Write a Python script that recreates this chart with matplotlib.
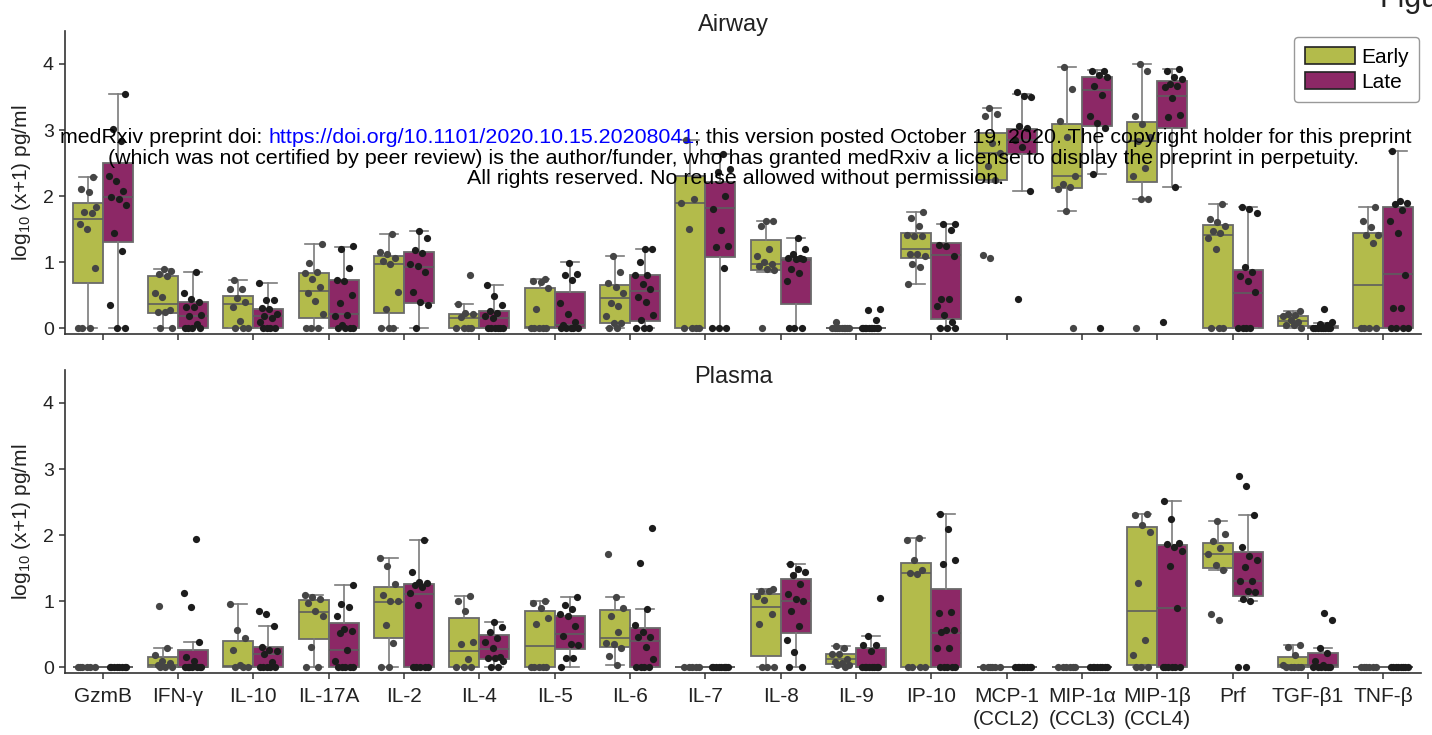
import matplotlib
matplotlib.use("Agg")
import matplotlib.pyplot as plt
from matplotlib.patches import Patch

plt.rcParams['font.family'] = ['Liberation Sans', 'DejaVu Sans']
plt.rcParams['mathtext.fontset'] = 'custom'
plt.rcParams['mathtext.rm'] = 'Liberation Sans'
plt.rcParams['mathtext.it'] = 'Liberation Sans:italic'

categories = ["GzmB", "IFN-γ", "IL-10", "IL-17A", "IL-2", "IL-4", "IL-5", "IL-6", "IL-7",
              "IL-8", "IL-9", "IP-10", "MCP-1\n(CCL2)", "MIP-1α\n(CCL3)", "MIP-1β\n(CCL4)",
              "Prf", "TGF-β1", "TNF-β"]
groups = ["Early", "Late"]
yticks = [0, 1, 2, 3, 4]

# box statistics per cytokine: (whisker low, Q1, median, Q3, whisker high)
air_early_box = [(0, 0.69, 1.66, 1.89, 2.29), (0, 0.23, 0.37, 0.79, 0.90), (0, 0, 0.37, 0.49, 0.73),
                 (0, 0.16, 0.57, 0.84, 1.28), (0, 0.23, 0.98, 1.09, 1.42), (0, 0, 0.15, 0.21, 0.37),
                 (0, 0, 0.02, 0.61, 0.74), (0, 0.08, 0.46, 0.65, 1.09), (0, 0, 1.89, 2.30, 2.85),
                 (0.86, 0.88, 0.98, 1.34, 1.63), (0, 0, 0, 0, 0), (0.67, 1.06, 1.20, 1.45, 1.76),
                 (2.22, 2.25, 2.65, 2.95, 3.34), (1.77, 2.12, 2.31, 3.09, 3.96), (1.95, 2.22, 2.83, 3.12, 4.00),
                 (0, 0, 1.41, 1.56, 1.88), (0, 0.03, 0.11, 0.18, 0.26), (0, 0, 0.65, 1.45, 1.83)]
air_late_box = [(0, 1.30, 1.98, 2.50, 3.55), (0, 0.01, 0.19, 0.40, 0.86), (0, 0.01, 0.18, 0.30, 0.68),
                (0, 0, 0.21, 0.73, 1.23), (0, 0.38, 0.93, 1.15, 1.48), (0, 0, 0.15, 0.27, 0.65),
                (0, 0, 0.05, 0.55, 1.00), (0, 0.11, 0.56, 0.80, 1.20), (0, 1.08, 1.82, 2.22, 2.64),
                (0, 0.37, 1.03, 1.06, 1.36), (0, 0, 0, 0, 0), (0, 0.14, 1.11, 1.29, 1.58),
                (2.08, 2.64, 2.85, 3.02, 3.55), (2.34, 3.06, 3.60, 3.81, 3.91), (2.14, 3.03, 3.51, 3.74, 3.93),
                (0, 0, 0.54, 0.89, 1.84), (0, 0, 0.015, 0.04, 0.08), (0, 0, 0.82, 1.83, 2.69)]
pla_early_box = [(0, 0, 0, 0, 0), (0, 0, 0.04, 0.16, 0.30), (0, 0.01, 0.025, 0.40, 0.96),
                 (0, 0.43, 0.84, 1.02, 1.10), (0, 0.44, 0.99, 1.21, 1.65), (0, 0, 0.24, 0.74, 1.08),
                 (0, 0, 0.33, 0.86, 1.00), (0.035, 0.31, 0.45, 0.87, 1.06), (0, 0, 0, 0, 0),
                 (0, 0.17, 0.91, 1.11, 1.18), (0, 0.05, 0.12, 0.20, 0.32), (0, 0, 1.43, 1.58, 1.95),
                 (0, 0, 0, 0, 0), (0, 0, 0, 0, 0), (0, 0.04, 0.86, 2.13, 2.32),
                 (1.48, 1.50, 1.72, 1.88, 2.22), (0, 0, 0.03, 0.16, 0.34), (0, 0, 0, 0, 0)]
pla_late_box = [(0, 0, 0, 0, 0), (0, 0, 0.01, 0.27, 0.39), (0, 0, 0.20, 0.31, 0.62),
                (0, 0, 0.26, 0.67, 1.25), (0, 0, 1.11, 1.26, 1.92), (0, 0.12, 0.28, 0.49, 0.69),
                (0, 0.28, 0.51, 0.78, 1.06), (0, 0.01, 0.40, 0.60, 0.89), (0, 0, 0, 0, 0),
                (0, 0.52, 1.01, 1.33, 1.56), (0, 0, 0, 0.29, 0.48), (0, 0, 0.52, 1.19, 2.32),
                (0, 0, 0, 0, 0), (0, 0, 0, 0, 0), (0, 0, 0.90, 1.85, 2.52),
                (1.00, 1.08, 1.31, 1.75, 2.31), (0, 0, 0.04, 0.22, 0.30), (0, 0, 0, 0, 0)]

# individual sample values
air_early_pts = [[0, 0, 0, 0.92, 1.51, 1.58, 1.75, 1.76, 1.84, 2.06, 2.11, 2.29],
                 [0, 0, 0.24, 0.24, 0.28, 0.47, 0.54, 0.79, 0.82, 0.87, 0.90],
                 [0, 0, 0, 0.11, 0.33, 0.40, 0.46, 0.59, 0.60, 0.73],
                 [0, 0, 0, 0.22, 0.42, 0.53, 0.63, 0.75, 0.83, 0.85, 0.99, 1.28],
                 [0, 0, 0, 0.30, 0.55, 0.98, 1.02, 1.07, 1.13, 1.16, 1.42],
                 [0, 0, 0, 0, 0.17, 0.21, 0.23, 0.37, 0.80],
                 [0, 0, 0, 0, 0, 0.30, 0.61, 0.70, 0.72, 0.74],
                 [0, 0, 0.08, 0.08, 0.19, 0.34, 0.39, 0.53, 0.62, 0.68, 0.85, 1.09],
                 [0, 0, 0, 0, 1.50, 1.90, 1.95, 2.85],
                 [0, 0.88, 0.90, 0.95, 0.98, 1.00, 1.10, 1.20, 1.55, 1.62, 1.63],
                 [0, 0, 0, 0, 0, 0, 0, 0, 0, 0.09],
                 [0.67, 0.93, 0.97, 1.09, 1.13, 1.13, 1.39, 1.40, 1.41, 1.55, 1.67, 1.76],
                 [1.06, 1.11, 2.25, 2.45, 2.66, 2.80, 3.22, 3.24, 3.34],
                 [0, 1.77, 2.11, 2.14, 2.19, 2.31, 2.90, 3.13, 3.62, 3.96],
                 [0, 1.95, 1.95, 2.31, 2.43, 2.83, 2.90, 3.09, 3.21, 3.90, 4.00],
                 [0, 0, 0, 1.20, 1.37, 1.45, 1.47, 1.55, 1.61, 1.66, 1.88],
                 [0, 0.05, 0.05, 0.10, 0.13, 0.18, 0.20, 0.21, 0.26],
                 [0, 0, 0, 0, 1.29, 1.41, 1.41, 1.53, 1.62, 1.83]]
air_late_pts = [[0, 0, 0.36, 1.17, 1.44, 1.86, 1.95, 1.98, 2.08, 2.23, 2.31, 2.83, 3.01, 3.55],
                [0, 0, 0, 0, 0.06, 0.18, 0.20, 0.32, 0.33, 0.40, 0.44, 0.53, 0.86],
                [0, 0, 0, 0, 0.10, 0.16, 0.19, 0.22, 0.30, 0.31, 0.43, 0.43, 0.68],
                [0, 0, 0, 0, 0.05, 0.19, 0.20, 0.38, 0.50, 0.72, 0.73, 0.91, 1.20, 1.24],
                [0, 0.35, 0.40, 0.55, 0.85, 0.95, 0.97, 1.14, 1.18, 1.36, 1.48],
                [0, 0, 0, 0, 0, 0, 0.15, 0.18, 0.23, 0.27, 0.35, 0.49, 0.65],
                [0, 0, 0, 0, 0, 0.05, 0.10, 0.22, 0.38, 0.73, 0.80, 0.82, 0.99],
                [0, 0, 0, 0.12, 0.20, 0.40, 0.48, 0.60, 0.67, 0.80, 0.80, 1.00, 1.20, 1.20],
                [0, 0, 0, 0.92, 1.23, 1.24, 1.49, 1.81, 2.00, 2.36, 2.41, 2.64],
                [0, 0, 0, 0.72, 0.83, 0.90, 1.05, 1.05, 1.07, 1.07, 1.12, 1.20, 1.36],
                [0, 0, 0, 0, 0, 0, 0, 0, 0, 0, 0.12, 0.28, 0.30],
                [0, 0, 0, 0.09, 0.20, 0.34, 0.44, 0.44, 1.10, 1.25, 1.26, 1.49, 1.58, 1.58],
                [0.44, 2.08, 2.75, 2.85, 3.03, 3.06, 3.50, 3.52, 3.57],
                [0, 2.34, 3.03, 3.10, 3.22, 3.53, 3.66, 3.80, 3.84, 3.90, 3.90],
                [0.09, 2.14, 3.20, 3.23, 3.49, 3.65, 3.67, 3.70, 3.77, 3.80, 3.90, 3.93],
                [0, 0, 0, 0, 0.55, 0.71, 0.79, 0.86, 0.93, 1.75, 1.80, 1.84],
                [0, 0, 0, 0, 0, 0, 0, 0, 0.05, 0.07, 0.09, 0.30],
                [0, 0, 0, 0, 0.31, 0.31, 0.81, 1.44, 1.63, 1.79, 1.88, 1.90, 1.93, 2.69]]
pla_early_pts = [[0, 0, 0, 0, 0, 0],
                 [0, 0, 0, 0.03, 0.06, 0.09, 0.18, 0.29, 0.93],
                 [0, 0, 0.01, 0.04, 0.26, 0.45, 0.57, 0.96],
                 [0, 0, 0.31, 0.78, 0.86, 0.98, 1.04, 1.06, 1.10],
                 [0, 0, 0.37, 0.64, 1.00, 1.00, 1.09, 1.26, 1.53, 1.65],
                 [0, 0, 0, 0.12, 0.36, 0.39, 0.86, 1.01, 1.08],
                 [0, 0, 0, 0, 0, 0.66, 0.74, 0.90, 0.97, 1.00],
                 [0.035, 0.17, 0.30, 0.35, 0.37, 0.54, 0.78, 0.90, 1.06, 1.71],
                 [0, 0, 0, 0, 0],
                 [0, 0, 0, 0.66, 0.80, 1.02, 1.08, 1.16, 1.16, 1.18],
                 [0, 0.03, 0.03, 0.06, 0.08, 0.12, 0.20, 0.20, 0.29, 0.33],
                 [0, 0, 0, 0, 1.41, 1.43, 1.47, 1.62, 1.93, 1.95],
                 [0, 0, 0, 0, 0, 0],
                 [0, 0, 0, 0, 0, 0],
                 [0, 0, 0, 0.18, 0.42, 1.28, 2.05, 2.16, 2.31, 2.32],
                 [0.71, 0.80, 1.48, 1.55, 1.72, 1.81, 1.91, 2.02, 2.22],
                 [0, 0, 0, 0, 0, 0.04, 0.19, 0.31, 0.34],
                 [0, 0, 0, 0, 0, 0]]
pla_late_pts = [[0, 0, 0, 0, 0, 0, 0, 0],
                [0, 0, 0, 0, 0, 0, 0, 0.09, 0.15, 0.39, 0.91, 1.12, 1.94],
                [0, 0, 0, 0, 0, 0.08, 0.20, 0.24, 0.27, 0.31, 0.62, 0.81, 0.85],
                [0, 0, 0, 0, 0, 0.10, 0.26, 0.52, 0.55, 0.58, 0.78, 0.92, 0.96, 1.25],
                [0, 0, 0, 0, 0, 0.94, 1.13, 1.21, 1.24, 1.27, 1.29, 1.45, 1.92],
                [0, 0, 0.10, 0.14, 0.14, 0.15, 0.29, 0.39, 0.44, 0.53, 0.61, 0.69],
                [0, 0.14, 0.14, 0.34, 0.36, 0.47, 0.62, 0.78, 0.80, 0.88, 0.94, 1.06],
                [0, 0, 0, 0, 0.13, 0.31, 0.46, 0.46, 0.53, 0.64, 0.89, 1.58, 2.11],
                [0, 0, 0, 0, 0, 0, 0, 0, 0],
                [0, 0, 0.23, 0.41, 0.62, 0.85, 1.01, 1.03, 1.11, 1.26, 1.39, 1.45, 1.49, 1.56],
                [0, 0, 0, 0, 0, 0, 0, 0, 0.24, 0.34, 0.34, 0.48, 1.05],
                [0, 0, 0, 0, 0, 0.29, 0.29, 0.53, 0.57, 0.57, 0.82, 0.83, 1.56, 1.62, 2.10, 2.32],
                [0, 0, 0, 0, 0, 0, 0, 0],
                [0, 0, 0, 0, 0, 0, 0, 0],
                [0, 0, 0, 0, 0, 0, 0.90, 1.53, 1.76, 1.82, 1.86, 1.88, 2.25, 2.52],
                [0, 0, 1.00, 1.04, 1.14, 1.15, 1.31, 1.31, 1.52, 1.63, 1.68, 1.82, 2.31, 2.75, 2.90],
                [0, 0, 0, 0, 0, 0, 0.03, 0.10, 0.22, 0.30, 0.71, 0.82],
                [0, 0, 0, 0, 0, 0, 0, 0]]

EARLY_C = '#b3bb4b'
LATE_C = '#8c2866'
PT_C = ['#454545', '#1c1c1c']
EDGE_C = '#6a6a6a'
WHISK_C = '#7c7c7c'
SPINE_C = '#333333'

W, H = 1432, 735
fig = plt.figure(figsize=(W / 100, H / 100), dpi=100)
ax_top = fig.add_axes([65 / W, 1 - 334.3 / H, 1356 / W, 303.4 / H])
ax_bot = fig.add_axes([65 / W, 1 - 673.3 / H, 1356 / W, 303.4 / H])


def jitter(k, i):
    return (((k * 0.6180339887) + 0.37 * i) % 1.0 - 0.5) * 0.26


def draw_panel(ax, early_box, late_box, early_pts, late_pts):
    n = len(categories)
    for g, (boxes, pts, col, off) in enumerate([(early_box, early_pts, EARLY_C, -0.2),
                                                 (late_box, late_pts, LATE_C, 0.2)]):
        stats = [dict(whislo=b[0], q1=b[1], med=b[2], q3=b[3], whishi=b[4], fliers=[]) for b in boxes]
        pos = [i + off for i in range(n)]
        ax.bxp(stats, positions=pos, widths=0.4, patch_artist=True, showfliers=False,
               capwidths=0.24, manage_ticks=False,
               boxprops=dict(facecolor=col, edgecolor=EDGE_C, linewidth=1.3),
               medianprops=dict(color='#5e5e5e', linewidth=1.2),
               whiskerprops=dict(color=WHISK_C, linewidth=1.2),
               capprops=dict(color=WHISK_C, linewidth=1.2))
        for i, vals in enumerate(pts):
            xs = [pos[i] + jitter(k, i + 5 * g) for k in range(len(vals))]
            ax.scatter(xs, vals, s=27, color=PT_C[g], linewidths=0, zorder=5)
    ax.set_xlim(-0.5, n - 0.5)
    ax.set_ylim(-0.09, 4.5)
    ax.set_yticks(yticks)
    ax.set_xticks(range(n))
    for s in ['top', 'right']:
        ax.spines[s].set_visible(False)
    for s in ['left', 'bottom']:
        ax.spines[s].set_color(SPINE_C)
        ax.spines[s].set_linewidth(1.2)
    ax.tick_params(axis='both', direction='out', length=4, width=1.1, color=SPINE_C,
                   labelcolor='#222222')
    ax.tick_params(axis='y', labelsize=14, pad=4)
    ax.set_ylabel(r'log$_{\mathrm{10}}$ (x+1) pg/ml', fontsize=15, color='#222222')
    ax.yaxis.set_label_coords(-0.0235, 0.5)


draw_panel(ax_top, air_early_box, air_late_box, air_early_pts, air_late_pts)
draw_panel(ax_bot, pla_early_box, pla_late_box, pla_early_pts, pla_late_pts)
ax_top.tick_params(axis='x', labelbottom=False)
ax_bot.set_xticklabels(categories, fontsize=15, linespacing=1.25)
ax_bot.tick_params(axis='x', pad=6)

fig.text(733 / W, 1 - 30.7 / H, 'Airway', ha='center', va='baseline', fontsize=17, color='#222222')
fig.text(733 / W, 1 - 382.7 / H, 'Plasma', ha='center', va='baseline', fontsize=17, color='#222222')

ax_top.legend(handles=[Patch(facecolor=EARLY_C, edgecolor='#222222', linewidth=1.2, label=groups[0]),
                       Patch(facecolor=LATE_C, edgecolor='#222222', linewidth=1.2, label=groups[1])],
              loc='upper right', bbox_to_anchor=(1 - 2 / 1356, 1 - 6 / 303.4), borderaxespad=0,
              fontsize=15, handlelength=2.4, handleheight=0.85, handletextpad=0.3,
              labelspacing=0.25, borderpad=0.5, frameon=True, edgecolor='#999999',
              fancybox=True, framealpha=1)

# preprint watermark
p1 = "medRxiv preprint doi: "
p2 = "https://doi.org/10.1101/2020.10.15.20208041"
p3 = "; this version posted October 19, 2020. The copyright holder for this preprint"
line2 = "(which was not certified by peer review) is the author/funder, who has granted medRxiv a license to display the preprint in perpetuity."
line3 = "All rights reserved. No reuse allowed without permission."
fig.canvas.draw()
rend = fig.canvas.get_renderer()


def text_w(s, fs):
    t = fig.text(0, 0, s, fontsize=fs)
    w = t.get_window_extent(renderer=rend).width
    t.remove()
    return w


fs0 = 12.7
fs = fs0 * 1348 / text_w(p1 + p2 + p3, fs0)
total = text_w(p1 + p2 + p3, fs)
x0 = 736 - total / 2
x2 = x0 + text_w(p1 + p2, fs) - text_w(p2, fs)
x3 = x0 + total - text_w(p3, fs)
yb1 = 1 - 142.7 / H
fig.text(x0 / W, yb1, p1.rstrip(), fontsize=fs, va='baseline', ha='left', color='black', zorder=10)
fig.text(x2 / W, yb1, p2, fontsize=fs, va='baseline', ha='left', color='#0000ff', zorder=10)
fig.text(x3 / W, yb1, p3, fontsize=fs, va='baseline', ha='left', color='black', zorder=10)
fig.text(733 / W, 1 - 163.5 / H, line2, fontsize=fs, va='baseline', ha='center', color='black', zorder=10)
fig.text(735.5 / W, 1 - 184.3 / H, line3, fontsize=fs, va='baseline', ha='center', color='black', zorder=10)

fig.text(1380 / W, 1 - 7.3 / H, 'Figure', fontsize=22, va='baseline', ha='left', color='#222222')

fig.savefig('out.png', dpi=100)
